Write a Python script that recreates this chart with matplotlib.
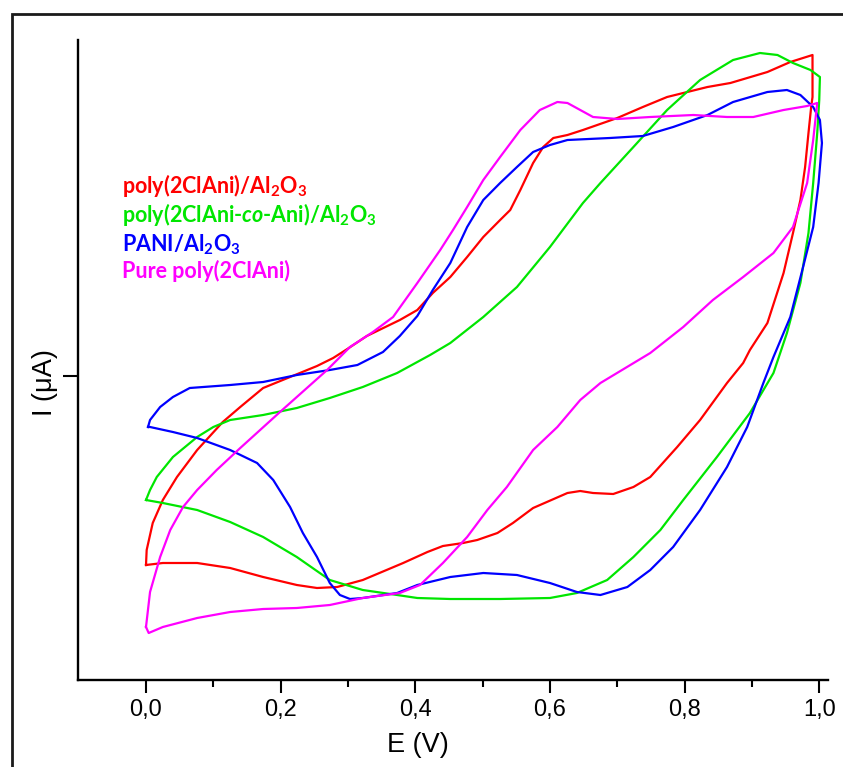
import matplotlib
matplotlib.use('agg')

import matplotlib.pyplot as plt
from matplotlib.patches import Rectangle
from matplotlib.ticker import FixedLocator, FuncFormatter

plt.rcParams['mathtext.fontset'] = 'custom'
plt.rcParams['mathtext.rm'] = 'Lato:bold'
plt.rcParams['mathtext.it'] = 'Lato:italic:bold'

# cyclic voltammograms: anodic sweep 0 -> 1.0 V, then back to 0 V
red_E = [0.000, 0.001, 0.010, 0.025, 0.046, 0.076, 0.114, 0.140, 0.174, 0.214,
         0.254, 0.278, 0.299, 0.328, 0.377, 0.403, 0.426, 0.452, 0.477, 0.501,
         0.526, 0.541, 0.556, 0.575, 0.590, 0.605, 0.626, 0.649, 0.700, 0.738,
         0.774, 0.804, 0.834, 0.868, 0.923, 0.957, 0.990,
         0.990, 0.988, 0.984, 0.979, 0.972, 0.961, 0.947, 0.923, 0.897, 0.887,
         0.863, 0.823, 0.789, 0.749, 0.724, 0.694, 0.664, 0.645, 0.626, 0.575,
         0.545, 0.522, 0.492, 0.471, 0.441, 0.418, 0.382, 0.322, 0.284, 0.254,
         0.224, 0.174, 0.125, 0.076, 0.025, 0.000]
red_I = [-1.89, -1.74, -1.47, -1.24, -1.01, -0.74, -0.46, -0.31, -0.12, -0.01,
         0.10, 0.18, 0.27, 0.40, 0.56, 0.66, 0.83, 0.99, 1.19, 1.39,
         1.56, 1.66, 1.86, 2.13, 2.29, 2.38, 2.41, 2.46, 2.58, 2.69,
         2.79, 2.84, 2.89, 2.93, 3.04, 3.14, 3.21,
         2.79, 2.69, 2.43, 2.09, 1.76, 1.43, 1.03, 0.53, 0.26, 0.13,
         -0.07, -0.44, -0.71, -1.01, -1.11, -1.18, -1.17, -1.15, -1.17, -1.32,
         -1.47, -1.57, -1.64, -1.67, -1.70, -1.76, -1.87, -2.04, -2.11, -2.12,
         -2.09, -2.01, -1.92, -1.87, -1.87, -1.89]

green_E = [0.000, 0.006, 0.016, 0.040, 0.076, 0.100, 0.125, 0.174, 0.224, 0.273,
           0.322, 0.373, 0.422, 0.452, 0.501, 0.551, 0.600, 0.649, 0.675, 0.724,
           0.774, 0.823, 0.872, 0.912, 0.938, 0.961, 0.987, 1.001,
           1.000, 0.997, 0.991, 0.984, 0.972, 0.952, 0.932, 0.897, 0.848, 0.798,
           0.764, 0.724, 0.685, 0.640, 0.600, 0.526, 0.452, 0.403, 0.373, 0.322,
           0.273, 0.224, 0.174, 0.125, 0.076, 0.025, 0.000]
green_I = [-1.24, -1.14, -1.01, -0.81, -0.61, -0.51, -0.44, -0.39, -0.32, -0.22,
           -0.11, 0.03, 0.21, 0.33, 0.59, 0.89, 1.29, 1.73, 1.93, 2.29,
           2.66, 2.96, 3.16, 3.23, 3.21, 3.13, 3.06, 2.99,
           2.76, 2.43, 1.93, 1.43, 0.93, 0.43, 0.03, -0.37, -0.81, -1.24,
           -1.54, -1.81, -2.04, -2.17, -2.22, -2.23, -2.23, -2.22, -2.19, -2.14,
           -2.04, -1.81, -1.61, -1.46, -1.34, -1.27, -1.24]

blue_E = [0.003, 0.006, 0.021, 0.040, 0.065, 0.125, 0.174, 0.224, 0.273, 0.314,
          0.352, 0.377, 0.403, 0.426, 0.452, 0.477, 0.501, 0.526, 0.551, 0.575,
          0.600, 0.626, 0.689, 0.738, 0.783, 0.834, 0.872, 0.923, 0.952, 0.972,
          0.991, 1.001, 1.004,
          0.999, 0.991, 0.976, 0.957, 0.932, 0.917, 0.893, 0.863, 0.823, 0.783,
          0.749, 0.715, 0.675, 0.640, 0.600, 0.551, 0.501, 0.452, 0.403, 0.373,
          0.322, 0.303, 0.288, 0.273, 0.254, 0.233, 0.214, 0.189, 0.165, 0.125,
          0.076, 0.040, 0.006, 0.003]
blue_I = [-0.51, -0.44, -0.31, -0.21, -0.12, -0.09, -0.06, 0.01, 0.06, 0.11,
          0.24, 0.40, 0.60, 0.86, 1.13, 1.49, 1.76, 1.93, 2.09, 2.24,
          2.31, 2.36, 2.38, 2.40, 2.49, 2.61, 2.74, 2.84, 2.86, 2.81,
          2.69, 2.56, 2.33,
          1.93, 1.49, 1.09, 0.59, 0.19, -0.07, -0.51, -0.91, -1.34, -1.71,
          -1.94, -2.11, -2.19, -2.16, -2.07, -1.99, -1.97, -2.01, -2.09, -2.17,
          -2.22, -2.23, -2.19, -2.07, -1.81, -1.57, -1.31, -1.04, -0.87, -0.74,
          -0.62, -0.56, -0.51, -0.51]

pink_E = [0.000, 0.006, 0.021, 0.036, 0.055, 0.076, 0.105, 0.140, 0.199, 0.269,
          0.303, 0.337, 0.367, 0.403, 0.437, 0.456, 0.477, 0.501, 0.526, 0.556,
          0.585, 0.611, 0.626, 0.645, 0.664, 0.700, 0.749, 0.813, 0.863, 0.902,
          0.947, 0.982, 0.997,
          0.991, 0.982, 0.961, 0.932, 0.887, 0.842, 0.798, 0.749, 0.675, 0.645,
          0.611, 0.575, 0.536, 0.507, 0.477, 0.441, 0.407, 0.377, 0.322, 0.273,
          0.224, 0.174, 0.125, 0.076, 0.025, 0.004, 0.000]
pink_I = [-2.51, -2.16, -1.81, -1.54, -1.31, -1.14, -0.94, -0.72, -0.36, 0.06,
          0.29, 0.44, 0.59, 0.93, 1.26, 1.46, 1.69, 1.96, 2.19, 2.46,
          2.66, 2.74, 2.73, 2.66, 2.59, 2.57, 2.59, 2.61, 2.59, 2.59,
          2.66, 2.70, 2.73,
          2.36, 1.93, 1.49, 1.23, 0.99, 0.76, 0.49, 0.23, -0.07, -0.24,
          -0.51, -0.74, -1.11, -1.34, -1.61, -1.87, -2.09, -2.17, -2.22, -2.29,
          -2.32, -2.33, -2.36, -2.42, -2.51, -2.57, -2.51]

series = [
    (r'poly(2ClAni)/Al$_\mathregular{2}$O$_\mathregular{3}$', red_E, red_I, '#ff0000'),
    (r'poly(2ClAni-$\it{co}$-Ani)/Al$_\mathregular{2}$O$_\mathregular{3}$', green_E, green_I, '#00e600'),
    (r'PANI/Al$_\mathregular{2}$O$_\mathregular{3}$', blue_E, blue_I, '#0000ff'),
    ('Pure poly(2ClAni)', pink_E, pink_I, '#ff00ff'),
]

fig = plt.figure(figsize=(8.43, 7.67), dpi=100)
ax = fig.add_axes([78 / 843, 1 - 680 / 767, 750 / 843, 640 / 767])

for label, e, i, color in series:
    ax.plot(e, i, color=color, linewidth=1.6, solid_joinstyle='round')

ax.set_xlim(-0.101, 1.013)
ax.set_ylim(-3.04, 3.36)

for side in ('top', 'right'):
    ax.spines[side].set_visible(False)
for side in ('left', 'bottom'):
    ax.spines[side].set_linewidth(1.7)

ax.xaxis.set_major_locator(FixedLocator([0.0, 0.2, 0.4, 0.6, 0.8, 1.0]))
ax.xaxis.set_minor_locator(FixedLocator([0.1, 0.3, 0.5, 0.7, 0.9]))
ax.xaxis.set_major_formatter(FuncFormatter(lambda v, p: f'{v:.1f}'.replace('.', ',')))
ax.set_yticks([0])
ax.tick_params(axis='y', labelleft=False, length=11, width=1.5)
ax.tick_params(axis='x', which='major', length=9, width=1.5, pad=5,
               labelsize=17)
ax.tick_params(axis='x', which='minor', length=5, width=1.5)
for t in ax.get_xticklabels():
    t.set_fontfamily('Liberation Sans')

ax.set_xlabel('E (V)', fontsize=19.5, family='Liberation Sans')
ax.xaxis.set_label_coords(0.453, -0.081)
ax.set_ylabel('I (\u03bcA)', fontsize=19.5, family='Liberation Sans')
ax.yaxis.set_label_coords(-0.027, 0.464)

# coloured sample names instead of a legend box
baselines = [1.83, 1.54, 1.25, 0.98]
for (label, e, i, color), y in zip(series, baselines):
    ax.text(-0.036, y, label, color=color, fontsize=15.5, family='Lato',
            fontweight='bold', va='baseline', ha='left')

# outer frame around the whole figure
fig.add_artist(Rectangle((11.5 / 843, -0.1), 1.2, 1.1 - 13.5 / 767,
                         transform=fig.transFigure, fill=False,
                         edgecolor='#1a1a1a', linewidth=2.0, clip_on=False))

fig.savefig('out.png', dpi=100)
